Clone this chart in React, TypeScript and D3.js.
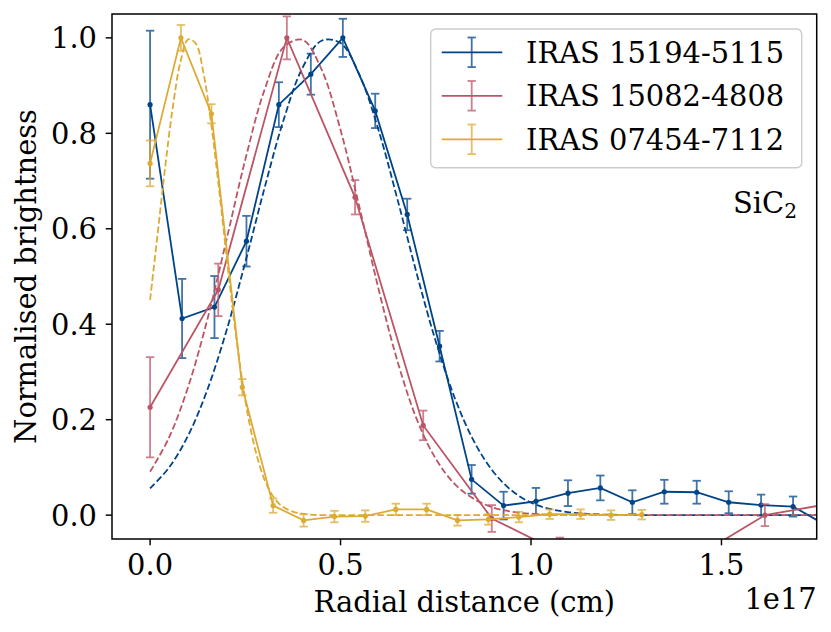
import React from 'react';
import * as d3 from 'd3';

// measured profiles (x in units of 1e17 cm)
const blueX = [0, 0.084, 0.169, 0.253, 0.338, 0.422, 0.506, 0.591, 0.675, 0.760, 0.844, 0.928, 1.013, 1.097, 1.182, 1.266, 1.350, 1.435, 1.519, 1.604, 1.688, 1.772];
const blueY = [0.860, 0.412, 0.436, 0.574, 0.860, 0.924, 1.000, 0.847, 0.630, 0.354, 0.075, 0.020, 0.029, 0.046, 0.057, 0.027, 0.049, 0.048, 0.027, 0.021, 0.018, -0.020];
const blueErr = [0.155, 0.083, 0.065, 0.053, 0.047, 0.043, 0.040, 0.036, 0.033, 0.032, 0.030, 0.029, 0.028, 0.027, 0.026, 0.025, 0.025, 0.024, 0.023, 0.022, 0.021, 0.021];

const redX = [0, 0.179, 0.359, 0.538, 0.717, 0.897, 1.076, 1.255, 1.434, 1.614, 1.793];
const redY = [0.226, 0.472, 1.000, 0.666, 0.188, -0.007, -0.078, -0.100, -0.087, 0.000, 0.025];
const redErr = [0.105, 0.055, 0.045, 0.036, 0.031, 0.028, 0.031, 0.030, 0.025, 0.023, 0.022];

const yellowX = [0, 0.081, 0.161, 0.242, 0.323, 0.403, 0.484, 0.565, 0.645, 0.726, 0.807, 0.888, 0.968, 1.049, 1.130, 1.210, 1.291];
const yellowY = [0.737, 1.000, 0.841, 0.268, 0.020, -0.011, -0.003, -0.002, 0.012, 0.012, -0.011, -0.009, -0.004, 0.002, 0.002, 0.000, 0.001];
const yellowErr = [0.048, 0.027, 0.020, 0.017, 0.015, 0.013, 0.012, 0.012, 0.012, 0.012, 0.011, 0.011, 0.011, 0.010, 0.010, 0.010, 0.010];

// fitted profiles (dashed)
const blueFitX = [0, 0.05, 0.1, 0.15, 0.2, 0.25, 0.3, 0.35, 0.4, 0.45, 0.5, 0.55, 0.6, 0.65, 0.7, 0.75, 0.8, 0.85, 0.9, 0.95, 1.0, 1.05, 1.1, 1.15, 1.2, 1.3, 1.4, 1.5, 1.6, 1.7, 1.8];
const blueFitY = [0.056, 0.100, 0.167, 0.262, 0.385, 0.530, 0.684, 0.827, 0.937, 0.994, 0.989, 0.922, 0.806, 0.660, 0.506, 0.364, 0.245, 0.155, 0.092, 0.051, 0.026, 0.013, 0.006, 0.0025, 0.001, 0, 0, 0, 0, 0, 0];

const redFitX = [0, 0.05, 0.1, 0.15, 0.2, 0.25, 0.3, 0.35, 0.4, 0.45, 0.5, 0.55, 0.6, 0.65, 0.7, 0.75, 0.8, 0.85, 0.9, 0.95, 1.0, 1.05, 1.1, 1.2, 1.3, 1.4, 1.5, 1.6, 1.7, 1.8];
const redFitY = [0.091, 0.163, 0.269, 0.409, 0.575, 0.745, 0.890, 0.980, 0.996, 0.934, 0.807, 0.644, 0.473, 0.321, 0.201, 0.118, 0.065, 0.034, 0.016, 0.007, 0.003, 0.001, 0, 0, 0, 0, 0, 0, 0, 0];

const yellowFitX = [0, 0.02, 0.04, 0.06, 0.08, 0.1, 0.12, 0.14, 0.16, 0.18, 0.2, 0.22, 0.24, 0.26, 0.28, 0.3, 0.32, 0.34, 0.36, 0.38, 0.4, 0.42, 0.45, 0.6, 0.8, 1.0, 1.2, 1.291];
const yellowFitY = [0.451, 0.591, 0.732, 0.857, 0.951, 0.997, 0.988, 0.927, 0.823, 0.690, 0.548, 0.411, 0.292, 0.196, 0.125, 0.075, 0.043, 0.023, 0.012, 0.006, 0.003, 0.001, 0, 0, 0, 0, 0, 0];

const names = ['IRAS 15194-5115', 'IRAS 15082-4808', 'IRAS 07454-7112'];
const colors = ['#004488', '#BB5566', '#DDAA33'];

const xTicks = [0, 0.5, 1.0, 1.5];
const yTicks = [0, 0.2, 0.4, 0.6, 0.8, 1.0];

const W = 831;
const H = 632;
const FONT = "'DejaVu Serif', serif";
const FS = 28.9;

const x = d3.scaleLinear().domain([-0.1, 1.75]).range([112, 816.7]);
const y = d3.scaleLinear().domain([-0.05, 1.05]).range([539, 14]);

const series = [
    { xs: blueX, ys: blueY, err: blueErr, fx: blueFitX, fy: blueFitY },
    { xs: redX, ys: redY, err: redErr, fx: redFitX, fy: redFitY },
    { xs: yellowX, ys: yellowY, err: yellowErr, fx: yellowFitX, fy: yellowFitY },
];

const dataLine = d3.line<[number, number]>().x(d => x(d[0])).y(d => y(d[1]));
const fitLine = d3.line<[number, number]>().x(d => x(d[0])).y(d => y(d[1])).curve(d3.curveCatmullRom.alpha(0.5));

const App: React.FC = () => {
    const [x0, x1] = x.range();
    const [y0, y1] = y.range();
    const cap = 4.2;

    return (
        <svg width={W} height={H} style={{ position: 'absolute', left: 0, top: 0, background: '#fff' }} fontFamily={FONT}>
            <defs>
                <clipPath id="plot">
                    <rect x={x0} y={y1} width={x1 - x0} height={y0 - y1} />
                </clipPath>
            </defs>

            <g clipPath="url(#plot)">
                {series.map((s, k) => {
                    const pts = s.xs.map((v, i) => [v, s.ys[i]] as [number, number]);
                    const fit = s.fx.map((v, i) => [v, s.fy[i]] as [number, number]);
                    return (
                        <g key={k}>
                            <g stroke={colors[k]} strokeWidth={1.8} opacity={0.75}>
                                {pts.map((p, i) => {
                                    const cx = x(p[0]);
                                    const top = y(p[1] + s.err[i]);
                                    const bot = y(p[1] - s.err[i]);
                                    return (
                                        <g key={i}>
                                            <line x1={cx} x2={cx} y1={top} y2={bot} />
                                            <line x1={cx - cap} x2={cx + cap} y1={top} y2={top} />
                                            <line x1={cx - cap} x2={cx + cap} y1={bot} y2={bot} />
                                        </g>
                                    );
                                })}
                            </g>
                            <path d={dataLine(pts) || ''} fill="none" stroke={colors[k]} strokeWidth={1.8} />
                            {pts.map((p, i) => (
                                <circle key={i} cx={x(p[0])} cy={y(p[1])} r={2.6} fill={colors[k]} />
                            ))}
                            <path d={fitLine(fit) || ''} fill="none" stroke={colors[k]} strokeWidth={1.8} strokeDasharray="6.7,2.9" />
                        </g>
                    );
                })}
            </g>

            {/* frame */}
            <rect x={x0} y={y1} width={x1 - x0} height={y0 - y1} fill="none" stroke="#000" strokeWidth={1.5} />

            {/* x axis */}
            {xTicks.map(t => (
                <g key={t}>
                    <line x1={x(t)} x2={x(t)} y1={y0} y2={y0 + 6.3} stroke="#000" strokeWidth={1.45} />
                    <text x={x(t)} y={575} textAnchor="middle" fontSize={FS}>{d3.format('.1f')(t)}</text>
                </g>
            ))}
            <text x={(x0 + x1) / 2} y={611.5} textAnchor="middle" fontSize={FS}>Radial distance (cm)</text>
            <text x={x1} y={608.5} textAnchor="end" fontSize={FS}>1e17</text>

            {/* y axis */}
            {yTicks.map(t => (
                <g key={t}>
                    <line x1={x0 - 6.3} x2={x0} y1={y(t)} y2={y(t)} stroke="#000" strokeWidth={1.45} />
                    <text x={97} y={y(t) + 10.5} textAnchor="end" fontSize={FS}>{d3.format('.1f')(t)}</text>
                </g>
            ))}
            <text transform={`translate(36,${(y0 + y1) / 2}) rotate(-90)`} textAnchor="middle" fontSize={FS}>Normalised brightness</text>

            {/* molecule label */}
            <text x={733} y={213.3} fontSize={FS}>
                SiC<tspan fontSize={20.2} dy={5}>2</tspan>
            </text>

            {/* legend */}
            <rect x={430.7} y={29} width={371} height={138.7} rx={5} fill="#fff" fillOpacity={0.8} stroke="#cccccc" strokeWidth={1.4} />
            {names.map((n, k) => {
                const cy = 52.3 + k * 43.5;
                return (
                    <g key={n}>
                        <line x1={441.7} x2={502.3} y1={cy} y2={cy} stroke={colors[k]} strokeWidth={1.8} />
                        <g stroke={colors[k]} strokeWidth={1.8} opacity={0.75}>
                            <line x1={471.7} x2={471.7} y1={cy - 14.8} y2={cy + 14.8} />
                            <line x1={471.7 - cap} x2={471.7 + cap} y1={cy - 14.8} y2={cy - 14.8} />
                            <line x1={471.7 - cap} x2={471.7 + cap} y1={cy + 14.8} y2={cy + 14.8} />
                        </g>
                        <text x={526} y={cy + 10.5} fontSize={FS}>{n}</text>
                    </g>
                );
            })}
        </svg>
    );
};

export default App;
